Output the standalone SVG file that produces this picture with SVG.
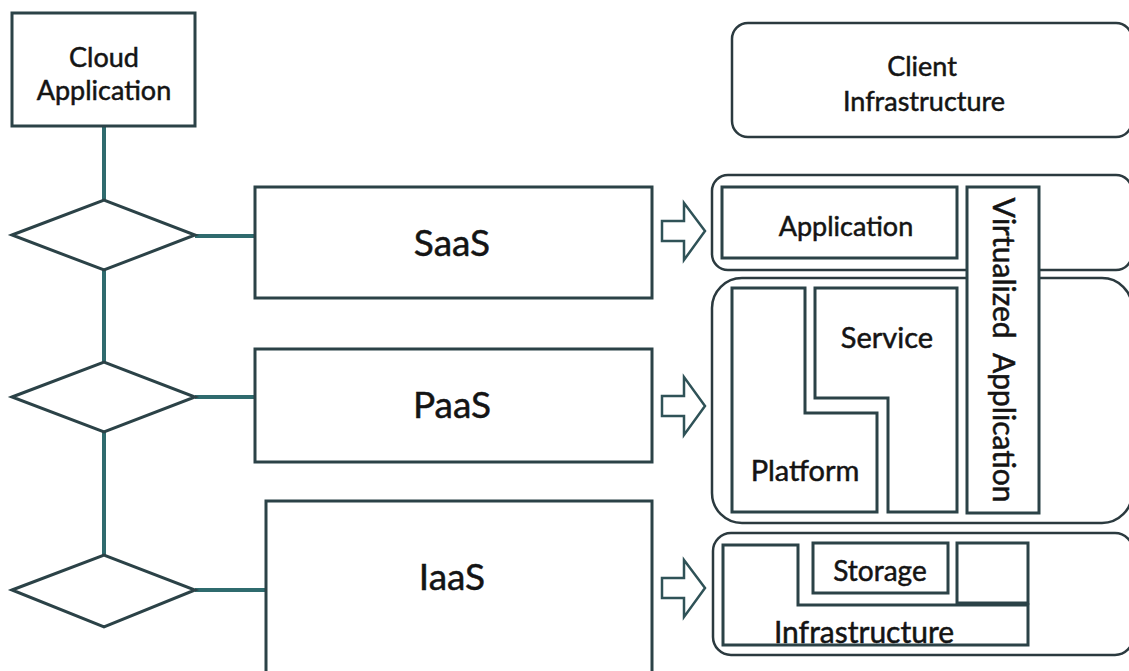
<svg xmlns="http://www.w3.org/2000/svg" width="1129" height="671" viewBox="0 0 1129 671">
<style>
.box{fill:#fff;stroke:#2b4247;stroke-width:3}
.cont{fill:#fff;stroke:#2b3a3f;stroke-width:2.5}
.conn{fill:none;stroke:#2f6b6e;stroke-width:4}
.arrow{fill:#fff;stroke:#2f5257;stroke-width:2.5;stroke-linejoin:miter}
.t{font-family:Lato,"Open Sans","DejaVu Sans",sans-serif;fill:#141414;stroke:#141414;stroke-width:0.5;text-anchor:middle}
.m{font-size:27px}
.l{font-size:37px}
</style>
<rect width="1129" height="671" fill="#fff"/>
<g id="connectors">
<line class="conn" x1="104" y1="126" x2="104" y2="200"/>
<line class="conn" x1="104" y1="270" x2="104" y2="362"/>
<line class="conn" x1="104" y1="432" x2="104" y2="555"/>
<line class="conn" x1="195" y1="236" x2="255" y2="236"/>
<line class="conn" x1="195" y1="397" x2="255" y2="397"/>
<line class="conn" x1="195" y1="590" x2="266" y2="590"/>
<polygon class="arrow" points="662,221 684,221 684,203 705,231 684,260 684,241 662,241"/>
<polygon class="arrow" points="662,396 684,396 684,377 705,406 684,435 684,416 662,416"/>
<polygon class="arrow" points="662,578 684,578 684,560 705,588 684,617 684,598 662,598"/>
</g>
<g id="cloud-application">
<rect class="box" x="12" y="13" width="183" height="113"/>
<text class="t m" x="104" y="67">Cloud</text>
<text class="t m" x="104" y="100">Application</text>
</g>
<g id="diamond-saas"><polygon class="box" points="12,235 104,200 195,235 104,270"/></g>
<g id="diamond-paas"><polygon class="box" points="12,397 104,362 195,397 104,432"/></g>
<g id="diamond-iaas"><polygon class="box" points="12,590 104,555 195,590 104,627"/></g>
<g id="saas">
<rect class="box" x="255" y="187" width="397" height="111"/>
<text class="t l" x="452" y="256">SaaS</text>
</g>
<g id="paas">
<rect class="box" x="255" y="349" width="397" height="113"/>
<text class="t l" x="452" y="418">PaaS</text>
</g>
<g id="iaas">
<rect class="box" x="266" y="501" width="386" height="180"/>
<text class="t l" x="452" y="590">IaaS</text>
</g>
<g id="client-infrastructure">
<rect class="cont" x="732" y="23" width="400" height="114" rx="16"/>
<text class="t m" x="922" y="76">Client</text>
<text class="t m" x="924" y="111">Infrastructure</text>
</g>
<g id="saas-stack">
<rect class="cont" x="712" y="175" width="420" height="95" rx="16"/>
</g>
<g id="paas-stack">
<rect class="cont" x="712" y="278" width="420" height="245" rx="30"/>
</g>
<g id="iaas-stack">
<rect class="cont" x="713" y="533" width="420" height="122" rx="18"/>
</g>
<g id="application">
<rect class="box" x="722" y="187" width="235" height="71"/>
<text class="t m" x="846" y="236">Application</text>
</g>
<g id="virtualized-application">
<rect class="box" x="967" y="187" width="72" height="326"/>
<text class="t" style="font-size:30px" x="0" y="0" transform="translate(993,350) rotate(90)" xml:space="preserve">Virtualized  Application</text>
</g>
<g id="platform">
<polygon class="box" points="732,288 805,288 805,413 877,413 877,512 732,512"/>
<text class="t" style="font-size:29px" x="805" y="481">Platform</text>
</g>
<g id="service">
<polygon class="box" points="815,288 957,288 957,512 888,512 888,398 815,398"/>
<text class="t" style="font-size:29px" x="887" y="348">Service</text>
</g>
<g id="infrastructure">
<polygon class="box" points="723,545 798,545 798,605 1028,605 1028,645 723,645"/>
<text class="t" style="font-size:30px" x="864" y="643">Infrastructure</text>
</g>
<g id="storage">
<rect class="box" x="813" y="543" width="135" height="50"/>
<text class="t" style="font-size:28px" x="880" y="581">Storage</text>
</g>
<g id="spare">
<rect class="box" x="957" y="543" width="71" height="60"/>
</g>
</svg>
